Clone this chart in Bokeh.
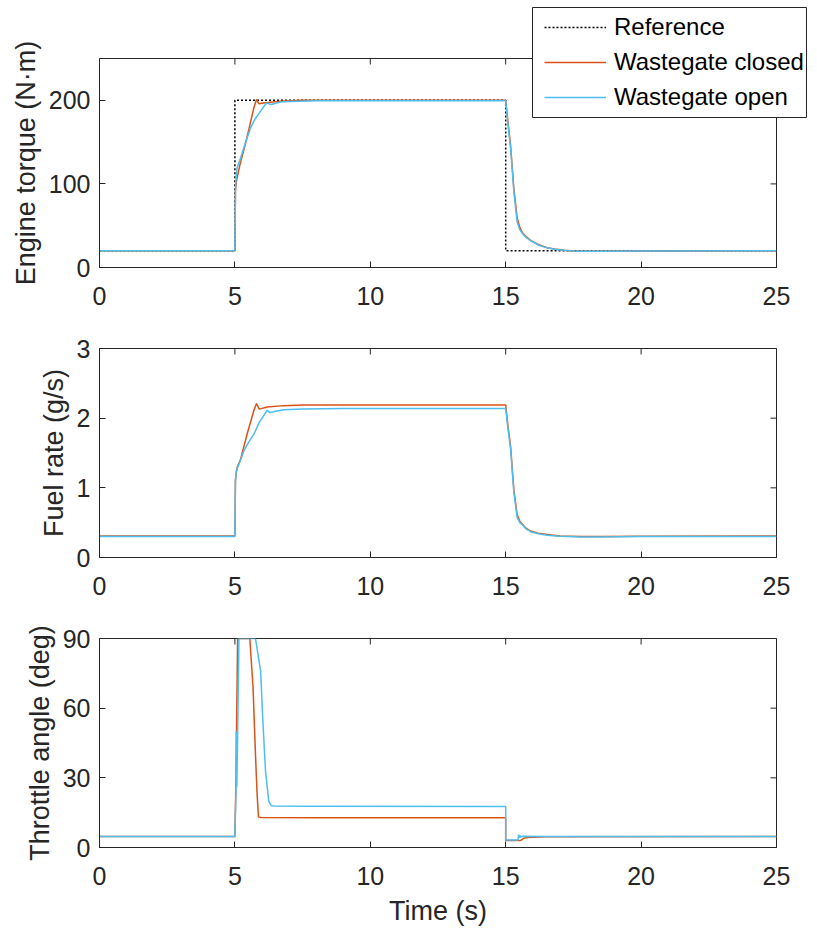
import math
from bokeh.plotting import figure
from bokeh.layouts import column
from bokeh.models import Legend, LegendItem, Range1d, FixedTicker
from bokeh.embed import file_html
from bokeh.resources import INLINE

FONT = "Liberation Sans"
AX = "#262626"
ORANGE = "#D95319"
BLUE = "#4DBEEE"

# ---------------- data ----------------
x_ticks = [0, 5, 10, 15, 20, 25]
torque_ticks = [0, 100, 200]
fuel_ticks = [0, 1, 2, 3]
throttle_ticks = [0, 30, 60, 90]

t_ref = [0, 5, 5, 15, 15, 25]
torque_ref = [20, 20, 200, 200, 20, 20]

t_tq_closed = [0, 5.0, 5.02, 5.06, 5.2, 5.39, 5.55, 5.70, 5.80, 5.88, 6.0, 6.13, 6.4, 6.68, 7.5,
               15.0, 15.08, 15.18, 15.30, 15.42, 15.52, 15.61, 15.75, 15.92, 16.2, 16.53, 16.8,
               17.15, 17.5, 17.76, 18.5, 20, 25]
torque_closed = [20, 20, 92, 104, 125, 148, 170, 191, 201, 196, 196.5, 197, 198, 199, 200,
                 200, 175, 146, 95, 60, 48, 42, 37, 32.5, 27.5, 23.7, 22,
                 20.6, 19.8, 19.4, 19.3, 19.6, 20]

t_tq_open = [0, 5.0, 5.02, 5.05, 5.08, 5.21, 5.40, 5.58, 5.75, 5.95, 6.10, 6.19, 6.27, 6.34, 6.5,
             6.68, 7.0, 7.42, 8.0, 15.0, 15.08, 15.18, 15.30, 15.42, 15.52, 15.61, 15.75, 15.92,
             16.2, 16.53, 16.8, 17.15, 17.5, 17.76, 18.5, 20, 25]
torque_open = [20, 20, 95, 110, 119, 131, 150, 167, 178, 187, 194, 197, 195.5, 195, 196.5,
               198, 198.5, 199, 199.5, 199.5, 172, 143, 91, 55, 45, 41, 36, 32,
               27, 23.5, 21.8, 20.5, 19.8, 19.4, 19.3, 19.6, 20]

t_fu_closed = [0, 5.0, 5.02, 5.05, 5.08, 5.21, 5.45, 5.70, 5.80, 5.90, 6.19, 6.8, 7.5,
               15.0, 15.08, 15.18, 15.30, 15.42, 15.52, 15.61, 15.75, 15.92, 16.2, 16.53,
               17.0, 17.76, 18.5, 20, 25]
fuel_closed = [0.31, 0.31, 1.10, 1.22, 1.29, 1.41, 1.77, 2.11, 2.21, 2.13, 2.16, 2.18, 2.19,
               2.19, 1.90, 1.60, 0.98, 0.62, 0.52, 0.48, 0.42, 0.38, 0.35, 0.33,
               0.31, 0.30, 0.30, 0.305, 0.31]

t_fu_open = [0, 5.0, 5.02, 5.05, 5.15, 5.33, 5.50, 5.70, 5.90, 6.07, 6.19, 6.31, 6.5, 6.81,
             7.5, 9, 15.0, 15.08, 15.18, 15.30, 15.42, 15.52, 15.61, 15.75, 15.92, 16.2,
             16.53, 17.0, 17.76, 18.5, 20, 25]
fuel_open = [0.30, 0.30, 1.10, 1.24, 1.34, 1.53, 1.65, 1.77, 1.94, 2.04, 2.11, 2.08, 2.10, 2.12,
             2.13, 2.14, 2.14, 1.86, 1.56, 0.94, 0.58, 0.50, 0.47, 0.41, 0.37, 0.34,
             0.32, 0.305, 0.295, 0.295, 0.30, 0.30]

t_th_closed = [0, 5.0, 5.04, 5.06, 5.10, 5.55, 5.67, 5.76, 5.82, 5.87, 5.95, 8,
               15.0, 15.0, 15.55, 15.67, 15.79, 16.5, 25]
throttle_closed = [4.7, 4.7, 30, 50, 90, 90, 69, 40, 23, 13.2, 12.9, 12.8,
                   12.8, 3.0, 3.0, 4.0, 4.3, 4.6, 4.7]

t_th_open = [0, 5.0, 5.04, 5.05, 5.07, 5.09, 5.15, 5.76, 5.95, 6.03, 6.13, 6.25, 6.34, 6.45, 8,
             15.0, 15.0, 15.45, 15.48, 15.50, 15.52, 15.55, 15.6, 16.5, 25]
throttle_open = [4.7, 4.7, 25, 50, 26, 40, 90, 90, 76, 55, 33, 20, 18.0, 17.9, 17.8,
                 17.7, 3.2, 3.2, 5.5, 4.2, 5.2, 4.5, 4.8, 4.7, 4.7]

legend_labels = ["Reference", "Wastegate closed", "Wastegate open"]


def make_fig(border_top, border_bottom, y_end, y_ticks, ylabel, xlabel=None):
    p = figure(frame_width=677, frame_height=209,
               min_border_left=99, min_border_right=41,
               min_border_top=border_top, min_border_bottom=border_bottom,
               x_range=Range1d(0, 25), y_range=Range1d(0, y_end),
               output_backend="svg", toolbar_location=None,
               background_fill_color="white", border_fill_color="white")
    p.xgrid.visible = False
    p.ygrid.visible = False
    p.outline_line_color = AX
    p.outline_line_width = 1
    for ax in (p.xaxis[0], p.yaxis[0]):
        ax.axis_line_color = AX
        ax.major_tick_line_color = AX
        ax.major_tick_in = 6
        ax.major_tick_out = 0
        ax.minor_tick_line_color = None
        ax.major_label_text_font = FONT
        ax.major_label_text_font_size = "25px"
        ax.major_label_text_color = AX
        ax.axis_label_text_font = FONT
        ax.axis_label_text_font_size = "27px"
        ax.axis_label_text_font_style = "normal"
        ax.axis_label_text_color = AX
    p.xaxis[0].ticker = FixedTicker(ticks=x_ticks)
    p.yaxis[0].ticker = FixedTicker(ticks=y_ticks)
    p.xaxis[0].major_label_standoff = 19
    p.yaxis[0].major_label_standoff = 9
    p.yaxis[0].axis_label = ylabel
    p.yaxis[0].axis_label_standoff = 5
    if xlabel:
        p.xaxis[0].axis_label = xlabel
        p.xaxis[0].axis_label_standoff = 8
    # mirrored inward ticks on the top and right edges of the box
    p.ray(x=x_ticks, y=[y_end] * len(x_ticks), length=6, length_units="screen",
          angle=-math.pi / 2, line_color=AX, line_width=1)
    p.ray(x=[25] * len(y_ticks), y=y_ticks, length=6, length_units="screen",
          angle=math.pi, line_color=AX, line_width=1)
    return p


p1 = make_fig(58, 55, 250, torque_ticks, "Engine torque (N·m)")
p1.line(t_ref, torque_ref, line_color="black", line_width=1.5, line_dash="2 2")
p1.line(t_tq_closed, torque_closed, line_color=ORANGE, line_width=1.5)
p1.line(t_tq_open, torque_open, line_color=BLUE, line_width=1.5)

p2 = make_fig(26, 55, 3, fuel_ticks, "Fuel rate (g/s)")
p2.line(t_fu_closed, fuel_closed, line_color=ORANGE, line_width=1.5)
p2.line(t_fu_open, fuel_open, line_color=BLUE, line_width=1.5)

p3 = make_fig(26, 83, 90, throttle_ticks, "Throttle angle (deg)", "Time (s)")
p3.line(t_th_closed, throttle_closed, line_color=ORANGE, line_width=1.5)
p3.line(t_th_open, throttle_open, line_color=BLUE, line_width=1.5)

# legend box, laid over the top-right corner of the first panel.
# Its renderers carry the same series but sit outside its (empty) view range.
leg = figure(frame_width=274, frame_height=110, min_border=1,
             x_range=Range1d(-2, -1), y_range=Range1d(-2, -1),
             x_axis_type=None, y_axis_type=None,
             output_backend="svg", toolbar_location=None,
             background_fill_color="white", border_fill_alpha=0,
             styles={"position": "absolute", "left": "531px", "top": "6px", "z-index": "10"})
leg.xgrid.visible = False
leg.ygrid.visible = False
leg.outline_line_color = AX
leg.outline_line_width = 1
lr_ref = leg.line(t_ref, torque_ref, line_color="black", line_width=1.5, line_dash="2 2")
lr_cl = leg.line(t_tq_closed, torque_closed, line_color=ORANGE, line_width=1.5)
lr_op = leg.line(t_tq_open, torque_open, line_color=BLUE, line_width=1.5)
legend = Legend(items=[LegendItem(label=legend_labels[0], renderers=[lr_ref]),
                       LegendItem(label=legend_labels[1], renderers=[lr_cl]),
                       LegendItem(label=legend_labels[2], renderers=[lr_op])],
                location=(12, 6), orientation="vertical",
                label_text_font=FONT, label_text_font_size="24px", label_text_color="black",
                border_line_color=None, background_fill_alpha=0,
                padding=0, spacing=7, glyph_width=62, glyph_height=20,
                label_height=20, label_standoff=8, margin=0)
leg.add_layout(legend)

layout = column(p1, p2, p3, spacing=0)
open("out.html", "w").write(file_html([layout, leg], INLINE))
